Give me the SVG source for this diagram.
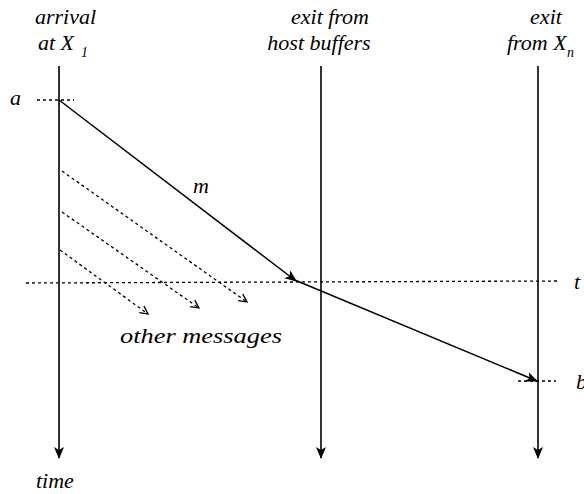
<svg xmlns="http://www.w3.org/2000/svg" width="584" height="494" viewBox="0 0 584 494">
<defs>
<style>
.t{font-family:"Liberation Serif","Times New Roman",serif;font-style:italic;font-size:22px;fill:#000}
.s{font-family:"Liberation Serif","Times New Roman",serif;font-style:italic;font-size:14px;fill:#000}
.ax{stroke:#000;stroke-width:1.6;fill:none}
.msg{stroke:#000;stroke-width:1.5;fill:none}
.dot{stroke:#000;stroke-width:1.3;stroke-dasharray:3 3;fill:none}
</style>
<marker id="ah" viewBox="0 0 12 10" refX="11" refY="5" markerWidth="12" markerHeight="10" markerUnits="userSpaceOnUse" orient="auto">
<path d="M0,0 L12,5 L0,10 L3,5 Z" fill="#000"/>
</marker>
<marker id="oh" viewBox="0 0 10 10" refX="9" refY="5" markerWidth="10" markerHeight="10" markerUnits="userSpaceOnUse" orient="auto">
<path d="M1,1 L9,5 L1,9" fill="none" stroke="#000" stroke-width="1.3"/>
</marker>
</defs>
<rect width="584" height="494" fill="#fff"/>
<g id="timeline-x1">
<line class="ax" x1="59" y1="66" x2="59" y2="458" marker-end="url(#ah)"/>
<text class="t" x="35" y="24">arrival</text>
<text class="t" x="38" y="50">at X</text>
<text class="s" x="81" y="57">1</text>
<text class="t" x="36" y="488">time</text>
</g>
<g id="timeline-host">
<line class="ax" x1="321" y1="66" x2="321" y2="458" marker-end="url(#ah)"/>
<text class="t" x="330" y="24" text-anchor="middle">exit from</text>
<text class="t" x="319" y="50" text-anchor="middle">host buffers</text>
</g>
<g id="timeline-xn">
<line class="ax" x1="538" y1="66" x2="538" y2="458" marker-end="url(#ah)"/>
<text class="t" x="546" y="24" text-anchor="middle">exit</text>
<text class="t" x="507" y="50">from X</text>
<text class="s" x="567" y="57">n</text>
</g>
<g id="markers">
<line class="dot" x1="37" y1="100" x2="74" y2="100"/>
<text class="t" x="10" y="105">a</text>
<line class="dot" x1="26" y1="283" x2="558" y2="281"/>
<text class="t" x="574" y="289">t</text>
<line class="dot" x1="518" y1="381" x2="556" y2="381"/>
<text class="t" x="576" y="389">b</text>
</g>
<g id="connectors">
<line class="msg" x1="59" y1="100" x2="296" y2="281" marker-end="url(#ah)"/>
<line class="msg" x1="290" y1="278" x2="537" y2="381" marker-end="url(#ah)"/>
<text class="t" x="193" y="193">m</text>
<line class="dot" x1="62" y1="171" x2="247" y2="302" marker-end="url(#oh)"/>
<line class="dot" x1="62" y1="212" x2="199" y2="308" marker-end="url(#oh)"/>
<line class="dot" x1="60" y1="250" x2="148" y2="314" marker-end="url(#oh)"/>
<text class="t" x="120" y="343" textLength="162" lengthAdjust="spacingAndGlyphs">other messages</text>
</g>
</svg>
